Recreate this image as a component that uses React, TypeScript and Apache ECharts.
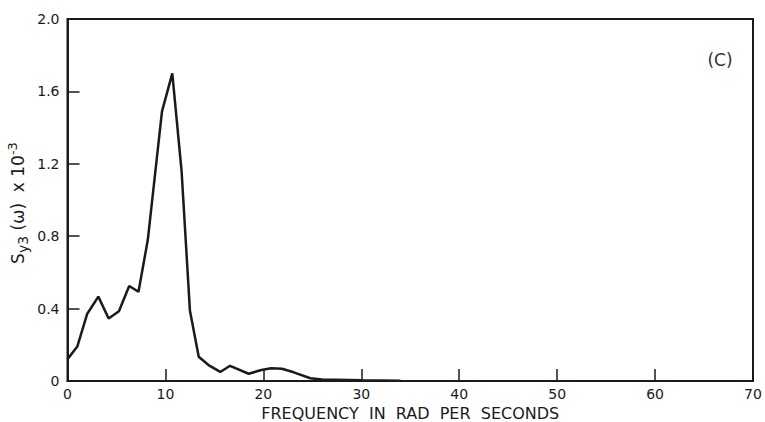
import React, { useEffect, useRef } from "react";
import * as echarts from "echarts";

const freq = [0, 1.0, 2.0, 3.15, 4.2, 5.25, 6.3, 7.25, 8.2, 9.65, 10.7, 11.65, 12.5, 13.4, 14.4, 15.6, 16.6, 18.5, 19.8, 20.8, 21.9, 23.1, 24.8, 26, 30, 34];
const spectrum = [0.12, 0.19, 0.37, 0.466, 0.345, 0.385, 0.525, 0.493, 0.78, 1.49, 1.7, 1.16, 0.39, 0.134, 0.088, 0.05, 0.084, 0.04, 0.061, 0.07, 0.068, 0.048, 0.015, 0.008, 0.004, 0.002];
const xTicks = [0, 10, 20, 30, 40, 50, 60, 70];
const yTicks = [0, 0.4, 0.8, 1.2, 1.6, 2.0];
const xTitle = "FREQUENCY  IN  RAD  PER  SECONDS";
const panelLabel = "(C)";

const FONT = "DejaVu Sans";
const INK = "#1a1a1a";

export default function App() {
  const ref = useRef<HTMLDivElement>(null);
  useEffect(() => {
    if (!ref.current) return;
    const chart = echarts.init(ref.current, null, { renderer: "svg" });
    chart.setOption({
      animation: false,
      backgroundColor: "#ffffff",
      grid: {
        left: 67.5,
        right: 12,
        top: 19,
        bottom: 41,
        outerBoundsMode: "none",
        containLabel: false,
        show: true,
        borderColor: INK,
        borderWidth: 2,
        backgroundColor: "transparent",
      },
      xAxis: {
        type: "value",
        min: xTicks[0],
        max: xTicks[xTicks.length - 1],
        interval: 10,
        name: xTitle,
        nameLocation: "middle",
        nameGap: 21,
        nameTextStyle: { fontFamily: FONT, fontSize: 16, color: INK },
        axisLine: { show: true, lineStyle: { color: INK, width: 2 } },
        axisTick: { show: true, inside: true, length: 12, lineStyle: { color: INK, width: 1.5 } },
        axisLabel: { fontFamily: FONT, fontSize: 14, color: INK, margin: 6 },
        splitLine: { show: false },
      },
      yAxis: {
        type: "value",
        min: yTicks[0],
        max: yTicks[yTicks.length - 1],
        interval: 0.4,
        axisLine: { show: true, lineStyle: { color: INK, width: 2 } },
        axisTick: { show: true, inside: true, length: 12, lineStyle: { color: INK, width: 1.5 } },
        axisLabel: {
          fontFamily: FONT,
          fontSize: 14,
          color: INK,
          margin: 8,
          formatter: (v: number) => (v === 0 ? "0" : v.toFixed(1)),
        },
        splitLine: { show: false },
      },
      graphic: [
        {
          type: "text",
          x: 18,
          y: 203,
          rotation: Math.PI / 2,
          style: {
            text: "{n|S}{sub|y3}{n| (ω)  x 10}{sup|-3}",
            align: "center",
            verticalAlign: "middle",
            fill: INK,
            rich: {
              n: { fontFamily: FONT, fontSize: 17, fill: INK, lineHeight: 24, verticalAlign: "middle" },
              sub: { fontFamily: FONT, fontSize: 14, fill: INK, lineHeight: 24, verticalAlign: "bottom" },
              sup: { fontFamily: FONT, fontSize: 13, fill: INK, lineHeight: 24, verticalAlign: "top" },
            },
          },
        },
        {
          type: "text",
          x: 720,
          y: 60,
          style: {
            text: panelLabel,
            align: "center",
            verticalAlign: "middle",
            fontFamily: FONT,
            fontSize: 17,
            fill: "#333",
          },
        },
      ],
      series: [
        {
          type: "line",
          data: freq.map((f, i) => [f, spectrum[i]]),
          showSymbol: false,
          symbol: "none",
          lineStyle: { color: INK, width: 2.5 },
          silent: true,
        },
      ],
    });
    return () => chart.dispose();
  }, []);
  return <div ref={ref} style={{ position: "absolute", left: 0, top: 0, width: 765, height: 422 }} />;
}
